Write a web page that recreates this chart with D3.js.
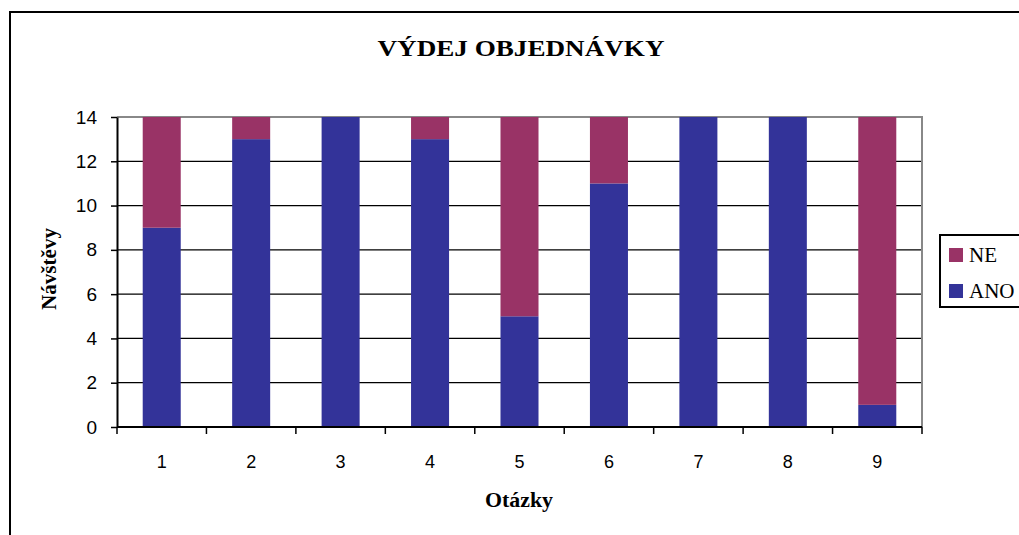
<!DOCTYPE html>
<html>
<head>
<meta charset="utf-8">
<script src="https://cdn.jsdelivr.net/npm/d3@7"></script>
<style>
  body { margin: 0; background: #fff; }
  svg { display: block; }
</style>
</head>
<body>
<div id="chart"></div>
<script>
// data
const otazky = ['1', '2', '3', '4', '5', '6', '7', '8', '9']
const ano = [9, 13, 14, 13, 5, 11, 14, 14, 1]
const ne = [5, 1, 0, 1, 9, 3, 0, 0, 13]
const yTicks = [0, 2, 4, 6, 8, 10, 12, 14]
const seriesNames = ['ANO', 'NE']
const colors = { ANO: '#333399', NE: '#993366' }

const width = 1019
const height = 535
const plot = { left: 117, top: 117, right: 922, bottom: 427 }
const serif = '"Liberation Serif", "Times New Roman", serif'
const sans = '"Liberation Sans", Arial, sans-serif'

const rows = otazky.map((q, i) => ({ q: q, ANO: ano[i], NE: ne[i] }))
const stacked = d3.stack().keys(seriesNames)(rows)

const svg = d3.select('#chart').append('svg')
  .attr('width', width)
  .attr('height', height)

// outer chart frame (runs off the right and bottom edge)
svg.append('rect')
  .attr('x', 10).attr('y', 12)
  .attr('width', 1030).attr('height', 560)
  .attr('fill', 'none')
  .attr('stroke', '#000')
  .attr('stroke-width', 2)

const x = d3.scaleBand().domain(otazky).range([plot.left, plot.right]).paddingInner(0.575).paddingOuter(0.2875)
const xb = d3.scaleBand().domain(otazky).range([plot.left, plot.right])
const y = d3.scaleLinear().domain([0, 14]).range([plot.bottom, plot.top])

// gridlines
svg.append('g')
  .selectAll('line')
  .data(yTicks.filter(t => t > 0 && t < 14))
  .enter()
  .append('line')
    .attr('x1', plot.left).attr('x2', plot.right)
    .attr('y1', d => y(d)).attr('y2', d => y(d))
    .attr('stroke', '#000')
    .attr('stroke-width', 1.2)

// plot area top and right border in gray
svg.append('path')
  .attr('d', `M${plot.left},${y(14)}H${plot.right}V${plot.bottom}`)
  .attr('fill', 'none')
  .attr('stroke', '#888')
  .attr('stroke-width', 2)

// bars
svg.append('g')
  .selectAll('g')
  .data(stacked)
  .enter()
  .append('g')
    .attr('fill', d => colors[d.key])
    .selectAll('rect')
    .data(d => d)
    .enter()
    .append('rect')
      .attr('x', d => x(d.data.q))
      .attr('width', x.bandwidth())
      .attr('y', d => y(d[1]))
      .attr('height', d => y(d[0]) - y(d[1]))

// y axis
const yAxis = svg.append('g')
  .attr('transform', `translate(${plot.left},0)`)
  .call(d3.axisLeft(y).tickValues(yTicks).tickSize(6).tickPadding(14).tickSizeOuter(0))
yAxis.select('.domain').attr('stroke', '#000').attr('stroke-width', 2)
yAxis.selectAll('.tick line').attr('stroke', '#000').attr('stroke-width', 1.5)
yAxis.selectAll('text')
  .style('font', `19px ${sans}`)
  .attr('fill', '#000')

// x axis: ticks at the category boundaries
const xAxis = svg.append('g')
  .attr('transform', `translate(0,${plot.bottom})`)
xAxis.append('line')
  .attr('x1', plot.left).attr('x2', plot.right)
  .attr('stroke', '#000').attr('stroke-width', 2)
xAxis.selectAll('line.tick')
  .data(otazky.concat(['end']))
  .enter()
  .append('line')
    .attr('class', 'tick')
    .attr('x1', d => d === 'end' ? plot.right : xb(d))
    .attr('x2', d => d === 'end' ? plot.right : xb(d))
    .attr('y1', 0).attr('y2', 7)
    .attr('stroke', '#000').attr('stroke-width', 1.5)
xAxis.selectAll('text')
  .data(otazky)
  .enter()
  .append('text')
    .attr('x', d => xb(d) + xb.bandwidth() / 2)
    .attr('y', 41)
    .attr('text-anchor', 'middle')
    .style('font', `18px ${sans}`)
    .text(d => d)

// titles
svg.append('text')
  .attr('x', 521).attr('y', 56)
  .attr('text-anchor', 'middle')
  .attr('textLength', 287)
  .attr('lengthAdjust', 'spacingAndGlyphs')
  .style('font', `bold 23px ${serif}`)
  .text('VÝDEJ OBJEDNÁVKY')

svg.append('text')
  .attr('x', 519).attr('y', 507)
  .attr('text-anchor', 'middle')
  .attr('textLength', 68)
  .attr('lengthAdjust', 'spacingAndGlyphs')
  .style('font', `bold 21px ${serif}`)
  .text('Otázky')

svg.append('text')
  .attr('transform', 'translate(56,269) rotate(-90)')
  .attr('text-anchor', 'middle')
  .attr('textLength', 82)
  .attr('lengthAdjust', 'spacingAndGlyphs')
  .style('font', `bold 20px ${serif}`)
  .text('Návštěvy')

// legend
const legend = svg.append('g')
legend.append('rect')
  .attr('x', 940).attr('y', 235)
  .attr('width', 100).attr('height', 72)
  .attr('fill', '#fff')
  .attr('stroke', '#000')
  .attr('stroke-width', 2)
const legendItems = legend.selectAll('g.item')
  .data(['NE', 'ANO'])
  .enter()
  .append('g')
    .attr('class', 'item')
    .attr('transform', (d, i) => `translate(949,${248 + i * 36})`)
legendItems.append('rect')
  .attr('width', 14).attr('height', 14)
  .attr('fill', d => colors[d])
legendItems.append('text')
  .attr('x', 20).attr('y', 14)
  .style('font', `21px ${serif}`)
  .text(d => d)
</script>
</body>
</html>
